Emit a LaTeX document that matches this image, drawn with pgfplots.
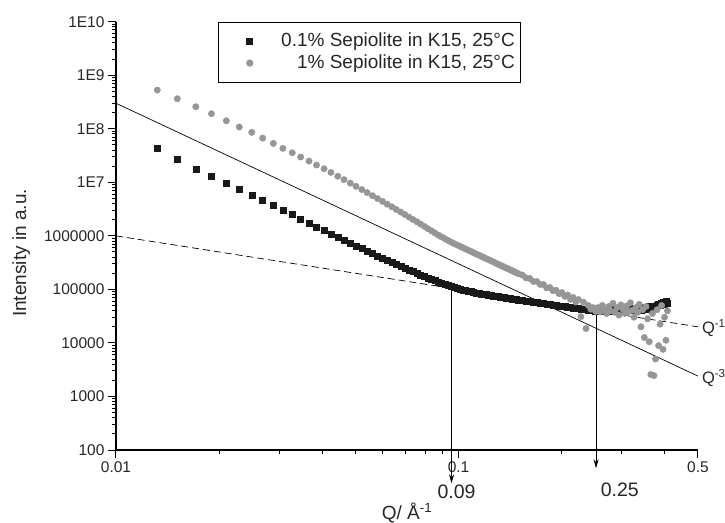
\documentclass[border=0pt]{standalone}
\usepackage{fontspec}
\setmainfont{Liberation Sans}
\usepackage{pgfplots}
\usepackage{pgfplotstable}
\pgfplotsset{compat=1.18}
\usetikzlibrary{arrows.meta}
\definecolor{dgray}{RGB}{150,150,150}
\definecolor{dblack}{RGB}{25,25,25}

% 0.1% sepiolite
\pgfplotstableread{
q I
0.0132 4.42e7
0.0151 2.68e7
0.0171 1.79e7
0.0190 1.31e7
0.0210 9.80e6
0.0229 7.46e6
0.0249 5.83e6
0.0268 4.65e6
0.0288 3.75e6
0.0307 3.06e6
0.0327 2.51e6
0.0346 2.08e6
0.0366 1.75e6
0.0385 1.47e6
0.0405 1.26e6
0.0424 1.08e6
0.0444 9.38e5
0.0463 8.26e5
0.0483 7.28e5
0.0502 6.49e5
0.0522 5.77e5
0.0541 5.18e5
0.0561 4.65e5
0.0580 4.20e5
0.0600 3.79e5
0.0619 3.47e5
0.0639 3.16e5
0.0658 2.91e5
0.0678 2.68e5
0.0697 2.49e5
0.0717 2.31e5
0.0736 2.15e5
0.0756 2.00e5
0.0775 1.87e5
0.0795 1.75e5
0.0814 1.64e5
0.0834 1.55e5
0.0853 1.46e5
0.0873 1.38e5
0.0892 1.31e5
0.0912 1.24e5
0.0931 1.19e5
0.0951 1.14e5
0.0970 1.09e5
0.0990 1.05e5
0.1009 1.02e5
0.1029 9.84e4
0.1048 9.55e4
0.1068 9.29e4
0.1087 9.06e4
0.1107 8.83e4
0.1126 8.65e4
0.1146 8.45e4
0.1165 8.30e4
0.1185 8.13e4
0.1204 7.98e4
0.1224 7.83e4
0.1243 7.69e4
0.1263 7.57e4
0.1282 7.45e4
0.1302 7.33e4
0.1321 7.21e4
0.1341 7.10e4
0.1360 7.00e4
0.1380 6.90e4
0.1399 6.81e4
0.1419 6.71e4
0.1438 6.62e4
0.1458 6.53e4
0.1477 6.44e4
0.1497 6.35e4
0.1536 6.19e4
0.1575 6.04e4
0.1614 5.89e4
0.1653 5.77e4
0.1692 5.65e4
0.1731 5.53e4
0.1770 5.42e4
0.1809 5.32e4
0.1848 5.21e4
0.1887 5.12e4
0.1926 5.02e4
0.1965 4.93e4
0.2004 4.84e4
0.2043 4.76e4
0.2082 4.68e4
0.2121 4.60e4
0.2160 4.53e4
0.2199 4.46e4
0.2238 4.39e4
0.2277 4.32e4
0.2316 4.26e4
0.2355 4.19e4
0.2394 4.13e4
0.2433 4.07e4
0.2472 4.02e4
0.2511 3.95e4
0.2550 4.07e4
0.2589 3.89e4
0.2628 3.98e4
0.2667 4.17e4
0.2706 3.89e4
0.2745 3.98e4
0.2784 4.07e4
0.2823 4.27e4
0.2862 3.98e4
0.2901 4.07e4
0.2940 4.17e4
0.2979 3.98e4
0.3018 4.27e4
0.3057 4.07e4
0.3096 4.17e4
0.3135 4.37e4
0.3174 4.07e4
0.3213 4.17e4
0.3252 4.37e4
0.3291 4.17e4
0.3330 4.27e4
0.3369 4.47e4
0.3408 4.17e4
0.3447 4.37e4
0.3486 4.57e4
0.3525 4.27e4
0.3564 4.47e4
0.3603 4.79e4
0.3642 4.37e4
0.3681 4.57e4
0.3720 4.90e4
0.3759 4.68e4
0.3798 5.01e4
0.3837 5.37e4
0.3876 5.01e4
0.3915 5.50e4
0.3954 5.75e4
0.3993 5.25e4
0.4032 5.89e4
0.4071 5.62e4
}\lowconc

% 1% sepiolite
\pgfplotstableread{
q I
0.0132 5.28e8
0.0151 3.64e8
0.0171 2.58e8
0.0190 1.91e8
0.0210 1.41e8
0.0229 1.08e8
0.0249 8.57e7
0.0268 6.70e7
0.0288 5.33e7
0.0307 4.31e7
0.0327 3.56e7
0.0346 2.96e7
0.0366 2.49e7
0.0385 2.10e7
0.0405 1.79e7
0.0424 1.53e7
0.0444 1.30e7
0.0463 1.12e7
0.0483 9.66e6
0.0502 8.41e6
0.0522 7.31e6
0.0541 6.43e6
0.0561 5.62e6
0.0580 4.98e6
0.0600 4.40e6
0.0619 3.91e6
0.0639 3.48e6
0.0658 3.11e6
0.0678 2.78e6
0.0697 2.50e6
0.0717 2.24e6
0.0736 2.02e6
0.0756 1.83e6
0.0775 1.66e6
0.0795 1.50e6
0.0814 1.36e6
0.0834 1.24e6
0.0853 1.13e6
0.0873 1.03e6
0.0892 9.57e5
0.0912 8.85e5
0.0931 8.22e5
0.0951 7.64e5
0.0970 7.19e5
0.0990 6.76e5
0.1009 6.38e5
0.1029 6.03e5
0.1048 5.70e5
0.1068 5.38e5
0.1087 5.11e5
0.1107 4.84e5
0.1126 4.59e5
0.1146 4.37e5
0.1165 4.15e5
0.1185 3.94e5
0.1204 3.76e5
0.1224 3.58e5
0.1243 3.42e5
0.1263 3.26e5
0.1282 3.11e5
0.1302 2.97e5
0.1321 2.84e5
0.1341 2.72e5
0.1360 2.61e5
0.1380 2.49e5
0.1399 2.40e5
0.1419 2.30e5
0.1438 2.21e5
0.1458 2.12e5
0.1477 2.04e5
0.1497 1.95e5
0.1536 1.85e5
0.1575 1.64e5
0.1614 1.60e5
0.1653 1.41e5
0.1692 1.40e5
0.1731 1.24e5
0.1770 1.23e5
0.1809 1.07e5
0.1848 1.08e5
0.1887 9.44e4
0.1926 9.66e4
0.1965 8.32e4
0.2004 8.71e4
0.2043 7.41e4
0.2082 7.85e4
0.2121 6.53e4
0.2160 7.08e4
0.2199 5.82e4
0.2238 6.46e4
0.2277 3.09e4
0.2316 5.75e4
0.2355 1.86e4
0.2394 5.01e4
0.2433 4.27e4
0.2472 4.57e4
0.2511 3.89e4
0.2550 4.57e4
0.2589 3.80e4
0.2628 5.01e4
0.2667 4.17e4
0.2706 3.55e4
0.2745 4.79e4
0.2784 3.98e4
0.2823 5.50e4
0.2862 3.72e4
0.2901 4.57e4
0.2940 3.31e4
0.2979 5.13e4
0.3018 4.27e4
0.3057 3.55e4
0.3096 4.90e4
0.3135 3.80e4
0.3174 5.62e4
0.3213 4.07e4
0.3252 3.02e4
0.3291 4.57e4
0.3330 3.72e4
0.3369 5.25e4
0.3408 2.00e4
0.3447 4.17e4
0.3486 1.26e4
0.3525 4.79e4
0.3564 2.82e4
0.3603 1.05e4
0.3642 2.57e3
0.3681 3.55e4
0.3720 2.45e3
0.3759 5.01e3
0.3798 4.17e4
0.3837 8.91e3
0.3876 2.24e4
0.3915 5.01e4
0.3954 7.59e3
0.3993 3.02e4
0.4032 1.12e4
0.4071 3.98e4
}\highconc

\begin{document}
\begin{tikzpicture}
\begin{axis}[
    scale only axis, width=582pt, height=428.3pt,
    xmode=log, ymode=log,
    xmin=0.01, xmax=0.5, ymin=100, ymax=1e10,
    axis x line*=bottom, axis y line*=left,
    axis line style={line width=1.5pt, -},
    tick align=outside,
    major tick length=8pt, minor tick length=4pt,
    tick style={black, line width=1pt},
    xtick={0.01,0.1,0.5}, xticklabels={0.01,0.1,0.5},
    minor xtick={0.02,0.03,0.04,0.05,0.06,0.07,0.08,0.09,0.2,0.3,0.4},
    ytick={1e2,1e3,1e4,1e5,1e6,1e7,1e8,1e9,1e10},
    yticklabels={100,1000,10000,100000,1000000,1E7,1E8,1E9,1E10},
    minor ytick={200,300,400,500,600,700,800,900,
      2000,3000,4000,5000,6000,7000,8000,9000,
      2e4,3e4,4e4,5e4,6e4,7e4,8e4,9e4,
      2e5,3e5,4e5,5e5,6e5,7e5,8e5,9e5,
      2e6,3e6,4e6,5e6,6e6,7e6,8e6,9e6,
      2e7,3e7,4e7,5e7,6e7,7e7,8e7,9e7,
      2e8,3e8,4e8,5e8,6e8,7e8,8e8,9e8,
      2e9,3e9,4e9,5e9,6e9,7e9,8e9,9e9},
    tick label style={font=\fontsize{15.5}{19}\selectfont, text=black!85},
    xlabel={Q/ Å\textsuperscript{-1}},
    ylabel={Intensity in a.u.},
    label style={font=\fontsize{19}{22}\selectfont, text=black!85, inner sep=0pt},
    xlabel style={at={(axis description cs:0.5,0)}, anchor=base, yshift=-69pt},
    ylabel style={at={(axis description cs:-0.1546,0.46)}, anchor=base},
    clip=false,
    legend style={at={(0.1753,1)}, anchor=north west, draw=black, line width=0.8pt,
      font=\fontsize{19}{22}\selectfont, text=black!85,
      nodes={inner sep=2pt, text height=14pt, text depth=4pt},
      inner xsep=4pt, inner ysep=8pt, row sep=0pt},
    legend cell align=right,
    legend image code/.code={\path (0pt,0pt) (56pt,0pt); \draw[mark repeat=2,mark phase=2,#1] plot coordinates {(0pt,0pt) (27pt,0pt) (56pt,0pt)};},
  ]
  \addplot[only marks, mark=square*, mark size=3pt, draw=dblack, fill=dblack] table[x=q, y=I] {\lowconc};
  \addlegendentry{0.1\% Sepiolite in K15, 25°C}
  \addplot[only marks, mark=*, mark size=3.2pt, draw=dgray, fill=dgray] table[x=q, y=I] {\highconc};
  \addlegendentry{1\% Sepiolite in K15, 25°C}

  % power laws
  \addplot[black, line width=0.7pt, forget plot] coordinates {(0.01,3e8) (0.5,2400)};
  \addplot[black, line width=0.7pt, dash pattern=on 7pt off 4pt, forget plot] coordinates {(0.01,1e6) (0.5,2e4)};

  % arrows to the crossover points
  \addplot[black, line width=0.7pt, -{Stealth[length=9pt, width=5pt]}, forget plot] coordinates {(0.0954,1.12e5) (0.0954,23.9)};
  \addplot[black, line width=0.7pt, -{Stealth[length=9pt, width=5pt]}, forget plot] coordinates {(0.252,4.08e4) (0.252,45.5)};

  \node[font=\fontsize{19.5}{22}\selectfont, text=black!85] at (axis cs:0.0987,16.9) {0.09};
  \node[font=\fontsize{19.5}{22}\selectfont, text=black!85] at (axis cs:0.2957,18.0) {0.25};
  \node[anchor=west, inner sep=0pt, font=\fontsize{16.5}{20}\selectfont, text=black!85] at (axis cs:0.513,1.92e4) {Q\textsuperscript{-1}};
  \node[anchor=west, inner sep=0pt, font=\fontsize{16.5}{20}\selectfont, text=black!85] at (axis cs:0.513,2.19e3) {Q\textsuperscript{-3}};
\end{axis}
\pgfresetboundingbox
\path (current axis.south west) ++(-116pt,-72pt) rectangle ++(725pt,522pt);
\end{tikzpicture}
\end{document}
